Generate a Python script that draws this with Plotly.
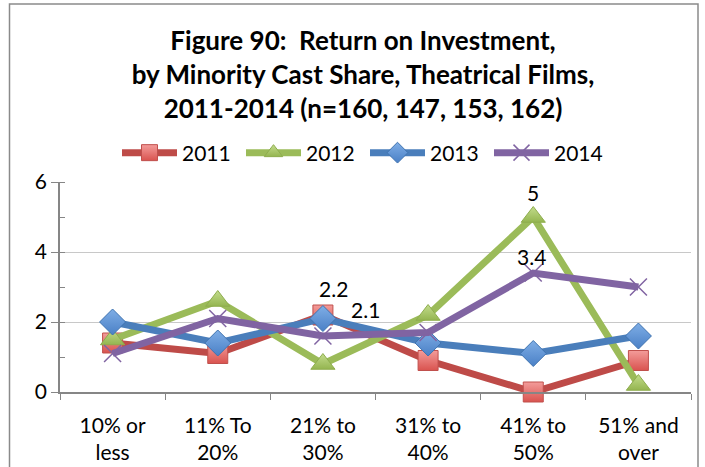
import plotly.graph_objects as go

# Category labels (minority cast share bands)
categories = ["10% or<br>less", "11% To<br>20%", "21% to<br>30%",
              "31% to<br>40%", "41% to<br>50%", "51% and<br>over"]

# Return on investment per band, one list per release year
roi_2011 = [1.4, 1.1, 2.2, 0.9, 0.0, 0.9]
roi_2012 = [1.5, 2.6, 0.8, 2.2, 5.0, 0.2]
roi_2013 = [2.0, 1.4, 2.1, 1.4, 1.1, 1.6]
roi_2014 = [1.1, 2.1, 1.6, 1.7, 3.4, 3.0]

W, H = 705, 467
L, R, T, B = 60, 14, 182, 75
FONT = "Lato, 'Open Sans', sans-serif"

series = [
    ("2011", roi_2011, "#BE4B48",
     dict(symbol="square", size=20, color="#F39C9A",
          gradient=dict(type="vertical", color="#D9534F"),
          line=dict(color="#C0504D", width=1))),
    ("2012", roi_2012, "#9BBB59",
     dict(symbol="triangle-up", size=21, color="#C3DC8C",
          gradient=dict(type="vertical", color="#94B550"),
          line=dict(color="#8EAD4E", width=1))),
    ("2013", roi_2013, "#4A7EBB",
     dict(symbol="diamond", size=20, color="#7FAEE6",
          gradient=dict(type="vertical", color="#4A80C6"),
          line=dict(color="#3F73B0", width=1))),
    ("2014", roi_2014, "#8064A2",
     dict(symbol="x-thin-open", size=17, color="#8064A2",
          line=dict(color="#8064A2", width=1.5))),
]

# Value labels: (series values, point index, pixel offset x, pixel offset y)
value_labels = [
    (roi_2011, 2, 11, 27),
    (roi_2013, 2, 43, 9),
    (roi_2012, 4, 0, 25),
    (roi_2014, 4, -2, 17),
]

fig = go.Figure()
for name, vals, col, marker in series:
    fig.add_trace(go.Scatter(
        x=categories, y=vals, name=name,
        mode="lines+markers",
        line=dict(color=col, width=7),
        marker=marker,
        cliponaxis=False,
    ))

for vals, i, dx, dy in value_labels:
    fig.add_annotation(x=categories[i], y=vals[i], text=f"{vals[i]:g}",
                       showarrow=False, xshift=dx, yshift=dy,
                       font=dict(family=FONT, size=21, color="#000000"))

# outer chart frame
fig.add_shape(type="rect", xref="paper", yref="paper",
              x0=(9.5 - L) / (W - L - R), x1=(698 - L) / (W - L - R),
              y0=(H - B - 480) / (H - T - B), y1=(H - B - 4) / (H - T - B),
              line=dict(color="#8A8A8A", width=1.5), layer="below")

fig.update_layout(
    width=W, height=H,
    margin=dict(l=L, r=R, t=T, b=B, autoexpand=False),
    paper_bgcolor="white", plot_bgcolor="white",
    font=dict(family=FONT, size=21, color="#000000"),
    title=dict(
        text="Figure 90:\u00a0 Return on Investment,<br>"
             "by Minority Cast Share, Theatrical Films,<br>"
             "2011-2014 (n=160, 147, 153, 162)",
        font=dict(family=FONT, size=26, color="#000000", weight="bold"),
        xref="paper", x=(363 - L) / (W - L - R), xanchor="center",
        yref="container", y=1 - 50 / H, yanchor="middle",
    ),
    showlegend=True,
    legend=dict(
        orientation="h", xref="paper", yref="container",
        x=(365 - L) / (W - L - R), xanchor="center",
        y=1 - 153 / H, yanchor="middle",
        font=dict(family=FONT, size=21, color="#000000"),
        itemwidth=55, entrywidth=54, tracegroupgap=0,
        bgcolor="rgba(0,0,0,0)",
    ),
    xaxis=dict(
        type="category", tickson="boundaries", ticks="outside", ticklen=6,
        tickcolor="#868686", showline=True, linecolor="#868686", linewidth=1.5,
        showgrid=False, tickfont=dict(family=FONT, size=21, color="#000000"),
        ticklabelstandoff=14,
        range=[-0.5, 5.5],
    ),
    yaxis=dict(
        range=[0, 6], dtick=2, tick0=0, ticks="outside", ticklen=7,
        tickcolor="#868686", showline=True, linecolor="#868686", linewidth=1.5,
        showgrid=True, gridcolor="#C8C8C8", gridwidth=1, zeroline=False,
        minor=dict(dtick=1, ticks="inside", ticklen=5, tickcolor="#868686",
                   showgrid=False),
        tickfont=dict(family=FONT, size=21, color="#000000"),
    ),
)

fig.write_html("out.html")
